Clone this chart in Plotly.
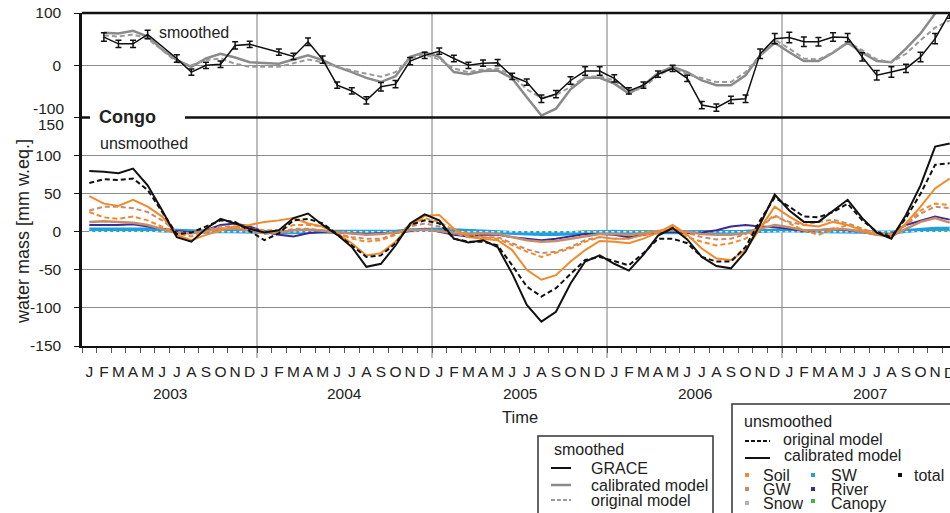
import plotly.graph_objects as go
from plotly.subplots import make_subplots

# ---------------- data ----------------
months = list(range(60))  # Jan 2003 .. Dec 2007 (month index)
month_letters = ["J", "F", "M", "A", "M", "J", "J", "A", "S", "O", "N", "D"]
years = ["2003", "2004", "2005", "2006", "2007"]

# smoothed (top panel)
grace_smoothed = [None, 54, 41, 41, 59, None, 13, -13, 0, 2, 38, 40,
                  None, 25, 17, 45, 11, -38, -49, -67, -41, -36, 8, 19,
                  27, 13, 0, 4, 5, -21, -32, -64, -55, -29, -11, -11,
                  -25, -49, -38, -17, -6, -25, -76, -81, -66, -64, 22, 51,
                  53, 45, 45, 54, 53, 16, -19, -13, -6, 16, 51, 100]
grace_err = [None, 8, 7, 7, 8, None, 7, 6, 6, 6, 7, 6,
             None, 6, 6, 7, 7, 6, 6, 7, 8, 7, 7, 6,
             6, 6, 6, 6, 6, 6, 6, 7, 7, 7, 8, 8,
             7, 6, 6, 6, 6, 6, 7, 7, 7, 7, 9, 10,
             10, 9, 8, 8, 8, 8, 9, 10, 8, 9, 10, 10]
calibrated_smoothed = [None, 62, 61, 66, 55, 30, 10, -3, 13, 22, 15, 6,
                       4, 3, 11, 19, 10, -3, -13, -24, -32, -21, 16, 25,
                       16, -13, -17, -11, -10, -25, -61, -96, -83, -46, -24, -24,
                       -35, -54, -38, -15, -3, -13, -29, -38, -38, -19, 19, 43,
                       25, 8, 8, 24, 43, 24, 8, 6, 32, 61, 99, 115]
original_smoothed = [None, 57, 55, 59, 51, 29, 6, 0, 10, 13, 3, -3,
                     -3, -3, 4, 11, 6, -3, -10, -16, -22, -13, 13, 21,
                     11, -6, -13, -8, -6, -19, -46, -62, -57, -41, -22, -21,
                     -29, -51, -43, -19, -6, -17, -25, -32, -32, -13, 19, 49,
                     32, 13, 11, 25, 45, 29, 11, 6, 22, 48, 72, 86]

# unsmoothed (bottom panel)
total_calibrated = [80, 79, 77, 83, 61, 28, -7, -13, 4, 17, 11, 4,
                    -1, 2, 18, 24, 9, -4, -20, -46, -42, -18, 11, 23,
                    15, -9, -14, -11, -20, -55, -96, -118, -105, -68, -39, -31,
                    -42, -51, -30, -5, 5, -10, -33, -45, -48, -26, 10, 49,
                    28, 13, 13, 28, 42, 18, -1, -9, 22, 61, 112, 116]
total_original = [64, 69, 68, 70, 55, 26, -3, -1, 7, 15, 13, 1,
                  -11, -2, 15, 17, 11, -3, -18, -33, -31, -15, 9, 15,
                  11, -9, -13, -13, -18, -44, -72, -85, -74, -55, -37, -33,
                  -39, -44, -28, -9, -9, -15, -33, -39, -39, -20, 15, 45,
                  33, 20, 19, 26, 37, 15, 0, -7, 18, 50, 88, 90]
soil_calibrated = [47, 37, 34, 42, 33, 20, -4, -11, -4, 2, 7, 9,
                   13, 15, 18, 11, 7, -2, -15, -31, -28, -13, 9, 21,
                   22, 4, -7, -9, -11, -24, -50, -63, -57, -39, -24, -12,
                   -13, -15, -9, -1, 9, -4, -22, -35, -37, -24, 4, 33,
                   20, 9, 7, 13, 9, 2, -3, -6, 11, 33, 57, 70]
soil_original = [26, 19, 17, 20, 15, 7, -2, -6, 0, 4, 7, 4,
                 2, 2, 9, 9, 7, -2, -9, -13, -11, -4, 9, 18,
                 13, 2, -3, -7, -9, -18, -26, -33, -28, -22, -13, -7,
                 -9, -9, -4, -1, 7, -7, -13, -18, -15, -9, 7, 22,
                 11, 2, -4, 2, 9, 3, -2, -3, 9, 28, 37, 35]
gw_original = [28, 33, 33, 31, 26, 15, 0, -2, 2, 7, 7, 2,
               -3, -1, 4, 4, 2, -3, -7, -9, -9, -3, 7, 11,
               7, -2, -7, -7, -7, -15, -23, -28, -26, -20, -11, -7,
               -9, -9, -4, 1, 4, -1, -7, -10, -9, -3, 7, 20,
               13, 9, 13, 16, 11, 4, -2, -3, 9, 24, 33, 31]
gw_calibrated = [13, 14, 13, 12, 9, 4, -2, -2, 1, 4, 4, 2,
                 -1, -1, 2, 3, 1, -1, -3, -4, -3, -1, 2, 3,
                 1, -2, -3, -2, -3, -7, -11, -13, -12, -9, -6, -3,
                 -3, -4, -2, 1, 2, 0, -3, -4, -4, -2, 4, 9,
                 6, 2, 2, 4, 3, 0, -4, -6, 4, 13, 18, 12]
river = [9, 9, 9, 10, 7, 4, 1, -1, 2, 9, 11, 7,
         0, -4, -6, -2, 0, -1, -2, -3, -2, -1, 1, 4,
         0, -4, -6, -4, -4, -7, -9, -11, -9, -6, -3, -3,
         -4, -7, -4, -1, 0, -2, -1, 2, 7, 9, 7, 6,
         4, 1, 2, 4, 2, 0, -4, -3, 9, 15, 20, 16]
sw = [3, 3, 4, 4, 3, 2, 1, 0, 0, 1, 1, 1,
      0, -1, 0, 0, 0, 0, 0, -1, -1, 0, 2, 3,
      3, 2, 1, 0, -1, -2, -2, -3, -3, -2, -1, 0,
      0, -1, -1, -1, 0, 0, 0, -1, -1, 0, 1, 2,
      2, 1, 1, 1, 1, 0, -1, -1, 1, 3, 4, 4]
canopy = [1, 1, 1, 1, 1, 0, 0, 0, 0, 1, 1, 1,
          1, 1, 1, 1, 0, 0, 0, 0, 0, 1, 1, 1,
          1, 1, 1, 0, 0, 0, 0, 0, 0, 0, 1, 1,
          1, 1, 1, 1, 0, 0, 0, 0, 0, 0, 1, 1,
          1, 1, 1, 1, 0, 0, 0, 0, 0, 1, 1, 1]
snow = [0] * 60

y_top_ticks = [-100, 0, 100]
y_top_text = ["", "0", "100"]
y_bot_ticks = [-150, -100, -50, 0, 50, 100, 150]
y_bot_text = ["-150", "-100", "-50", "0", "50", "100", ""]

# ---------------- geometry ----------------
W, H = 950, 513
L, R, T, B = 82, 0, 13, 167
pw, ph = W - L - R, H - T - B
split = 228.4 / 333.0
mw = 175.0 / 12.0
xr = [-0.5, -0.5 + pw / mw]


def xp(px):
    return (px - L) / pw


def yp(py):
    return (H - B - py) / ph


FONT = "Liberation Sans, Arial, sans-serif"
C_SOIL = "#f08a2c"
C_GW = "#c48c6c"
C_SW = "#1e9fe0"
C_RIVER = "#3d2b8f"
C_SNOW = "#b4b4b4"
C_CAN = "#3cb44a"

fig = make_subplots(rows=2, cols=1, shared_xaxes=True, vertical_spacing=0,
                    row_heights=[1 - split, split])

# top panel
fig.add_trace(go.Scatter(x=months, y=calibrated_smoothed, mode="lines",
                         line=dict(color="#8a8a8a", width=2.5), connectgaps=True), row=1, col=1)
fig.add_trace(go.Scatter(x=months, y=original_smoothed, mode="lines",
                         line=dict(color="#9a9a9a", width=2, dash="5px,3px"), connectgaps=True), row=1, col=1)
fig.add_trace(go.Scatter(x=months, y=grace_smoothed, mode="lines",
                         line=dict(color="#111", width=1.5), connectgaps=True,
                         error_y=dict(type="data", array=grace_err, color="#111",
                                      thickness=1.5, width=3)), row=1, col=1)


# bottom panel
def add_line(y, color, width, dash="solid"):
    fig.add_trace(go.Scatter(x=months, y=y, mode="lines",
                             line=dict(color=color, width=width, dash=dash)), row=2, col=1)


add_line(canopy, C_CAN, 1.5)
add_line(sw, C_SW, 4)
add_line(snow, "#eeeeee", 1.5, "dot")
add_line(river, C_RIVER, 2)
add_line(gw_calibrated, C_GW, 2.5)
add_line(gw_original, C_GW, 2, "5px,3px")
add_line(soil_original, C_SOIL, 2, "5px,3px")
add_line(soil_calibrated, C_SOIL, 2)
add_line(total_original, "#111", 2, "5px,3px")
add_line(total_calibrated, "#111", 2)

fig.update_traces(showlegend=False, hoverinfo="skip")

tickfont = dict(family=FONT, size=15.5, color="#222")
fig.update_layout(
    width=W, height=H, margin=dict(l=L, r=R, t=T, b=B, pad=0),
    paper_bgcolor="white", plot_bgcolor="white",
    font=dict(family=FONT, color="#222"),
    xaxis=dict(range=xr, showticklabels=False, ticks="", showgrid=False,
               zeroline=False, showline=False),
    xaxis2=dict(range=xr, tickmode="array", tickvals=months,
                ticktext=month_letters * len(years), ticks="", tickfont=tickfont,
                showgrid=False, zeroline=False, showline=True, linecolor="#111",
                linewidth=2, ticklabelstandoff=10,
                minor=dict(tickmode="array", tickvals=[m - 0.5 for m in months],
                           ticks="outside", ticklen=5, tickcolor="#555", tickwidth=1,
                           showgrid=False)),
    yaxis=dict(domain=[split, 1], range=[-100, 100], tickmode="array",
               tickvals=y_top_ticks, ticktext=y_top_text, ticks="outside", ticklen=5,
               tickcolor="#111", tickfont=tickfont, showgrid=True, gridcolor="#8c8c8c",
               gridwidth=1, zeroline=False, showline=True, linecolor="#111",
               linewidth=2.5, ticklabelstandoff=10),
    yaxis2=dict(domain=[0, split], range=[-150, 150], tickmode="array",
                tickvals=y_bot_ticks, ticktext=y_bot_text, ticks="outside", ticklen=5,
                tickcolor="#111", tickfont=tickfont, showgrid=True, gridcolor="#8c8c8c",
                gridwidth=1, zeroline=False, showline=True, linecolor="#111",
                linewidth=2.5, ticklabelstandoff=10),
)

shapes = []
# year separators
for k in range(1, len(years)):
    shapes.append(dict(type="line", xref="x2", yref="paper", x0=12 * k - 0.5, x1=12 * k - 0.5,
                       y0=yp(358), y1=1, line=dict(color="#7a7a7a", width=1), layer="below"))
# frame lines
shapes.append(dict(type="line", xref="paper", yref="paper", x0=0, x1=1, y0=1, y1=1,
                   line=dict(color="#111", width=2.5)))
shapes.append(dict(type="line", xref="paper", yref="paper", x0=0, x1=1, y0=split, y1=split,
                   line=dict(color="#111", width=2.5)))
shapes.append(dict(type="rect", xref="paper", yref="paper", x0=xp(90), x1=xp(185),
                   y0=yp(127), y1=yp(107), line=dict(width=0), fillcolor="white"))
# legend boxes
shapes.append(dict(type="rect", xref="paper", yref="paper", x0=xp(538), x1=xp(713),
                   y0=yp(530), y1=yp(436), line=dict(color="#333", width=1.5)))
shapes.append(dict(type="rect", xref="paper", yref="paper", x0=xp(732), x1=xp(990),
                   y0=yp(530), y1=yp(404), line=dict(color="#333", width=1.5)))


def leg_line(x0, x1, y, color, width, dash="solid"):
    shapes.append(dict(type="line", xref="paper", yref="paper", x0=xp(x0), x1=xp(x1),
                       y0=yp(y), y1=yp(y), line=dict(color=color, width=width, dash=dash)))


def leg_sq(x, y, color):
    shapes.append(dict(type="rect", xref="paper", yref="paper", x0=xp(x - 2), x1=xp(x + 2),
                       y0=yp(y + 2), y1=yp(y - 2), line=dict(width=0), fillcolor=color))


leg_line(551, 571, 468, "#111", 2)
leg_line(551, 571, 485, "#8a8a8a", 2.5)
leg_line(551, 571, 500, "#9a9a9a", 2, "4px,2px")
leg_line(745, 770, 441, "#111", 2, "4px,2px")
leg_line(745, 770, 458, "#111", 2)
leg_sq(747, 475, C_SOIL)
leg_sq(747, 489, C_GW)
leg_sq(747, 503, C_SNOW)
leg_sq(813, 475, C_SW)
leg_sq(813, 489, C_RIVER)
leg_sq(813, 501, C_CAN)
leg_sq(900, 475, "#111")

ann = []


def text(px, py, s, size=16, xanchor="left", **kw):
    ann.append(dict(xref="paper", yref="paper", x=xp(px), y=yp(py), text=s, showarrow=False,
                    xanchor=xanchor, yanchor="middle",
                    font=dict(family=FONT, size=size, color="#222"), **kw))


text(157, 33, "smoothed")
text(97, 117, "<b>Congo</b>", size=18)
text(98, 143, "unsmoothed")
text(66, 108, "-100", size=15.5, xanchor="right")
text(66, 125, "150", size=15.5, xanchor="right")
text(23, 232, "water mass [mm w.eq.]", size=18, xanchor="center", textangle=-90)
text(520, 417, "Time", size=16.5, xanchor="center")
for k, yr in enumerate(years):
    ann.append(dict(xref="x2", yref="paper", x=12 * k + 5.5, y=yp(393), text=yr,
                    showarrow=False, xanchor="center", yanchor="middle",
                    font=dict(family=FONT, size=15.5, color="#222")))
# last month letter sits on the clipped right edge
ann.append(dict(xref="x2", yref="paper", x=months[-1], y=yp(372), text=month_letters[-1],
                showarrow=False, xanchor="center", yanchor="middle",
                font=dict(family=FONT, size=15.5, color="#222")))
# legend texts
text(552, 449, "smoothed")
text(589, 468, "GRACE")
text(589, 485, "calibrated model")
text(589, 500, "original model")
text(742, 421, "unsmoothed")
text(781, 439, "original model")
text(782, 455, "calibrated model")
text(761, 476, "Soil")
text(761, 489, "GW")
text(761, 503, "Snow")
text(829, 476, "SW")
text(829, 489, "River")
text(829, 503, "Canopy")
text(912, 476, "total")

fig.update_layout(shapes=shapes, annotations=ann)
fig.write_html("out.html", config={"displayModeBar": False},
               post_script="document.body.style.margin='0px';"
                           "document.body.style.overflow='hidden';")
